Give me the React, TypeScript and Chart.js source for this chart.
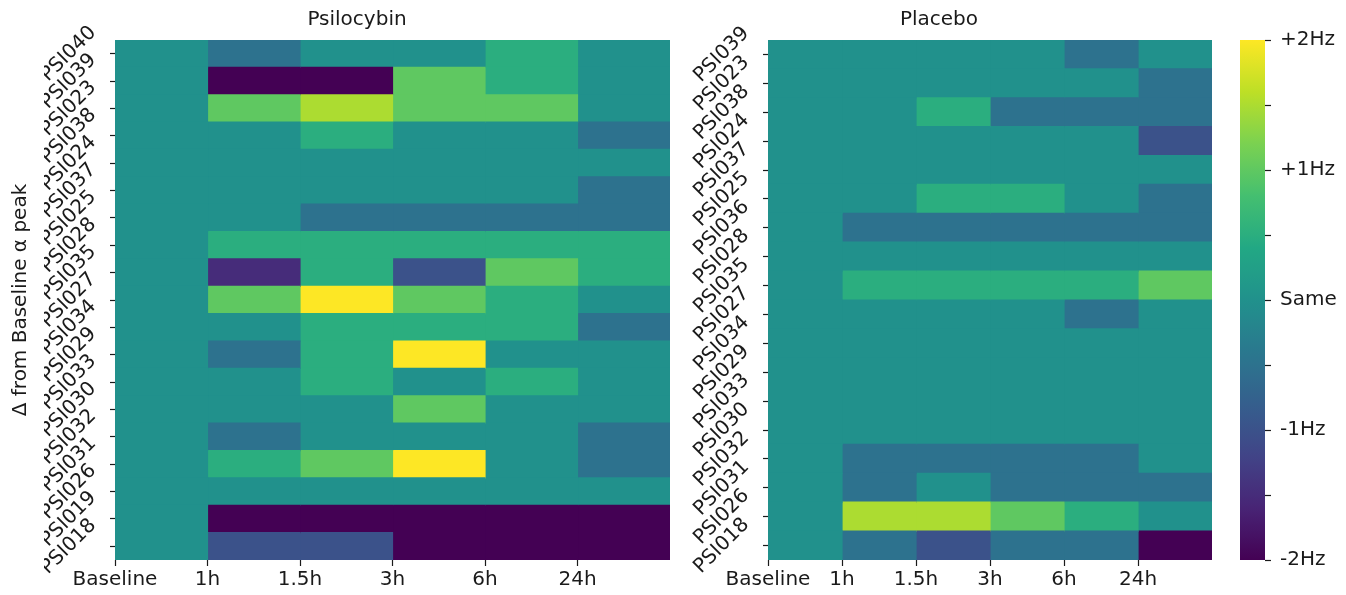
import React, { useEffect, useRef } from 'react';
import { Chart, registerables } from 'chart.js';

Chart.register(...registerables);

// ---------------- data ----------------
const timeLabels = ['Baseline', '1h', '1.5h', '3h', '6h', '24h'];

const psilocybinSubjects = [
  'PSI040', 'PSI039', 'PSI023', 'PSI038', 'PSI024', 'PSI037', 'PSI025', 'PSI028', 'PSI035', 'PSI027',
  'PSI034', 'PSI029', 'PSI033', 'PSI030', 'PSI032', 'PSI031', 'PSI026', 'PSI019', 'PSI018',
];

// Δ from baseline α peak (Hz), one row per subject, columns follow timeLabels
const psilocybinDelta = [
  [0, -0.5, 0, 0, 0.5, 0],
  [0, -2, -2, 1, 0.5, 0],
  [0, 1, 1.5, 1, 1, 0],
  [0, 0, 0.5, 0, 0, -0.5],
  [0, 0, 0, 0, 0, 0],
  [0, 0, 0, 0, 0, -0.5],
  [0, 0, -0.5, -0.5, -0.5, -0.5],
  [0, 0.5, 0.5, 0.5, 0.5, 0.5],
  [0, -1.5, 0.5, -1, 1, 0.5],
  [0, 1, 2, 1, 0.5, 0],
  [0, 0, 0.5, 0.5, 0.5, -0.5],
  [0, -0.5, 0.5, 2, 0, 0],
  [0, 0, 0.5, 0, 0.5, 0],
  [0, 0, 0, 1, 0, 0],
  [0, -0.5, 0, 0, 0, -0.5],
  [0, 0.5, 1, 2, 0, -0.5],
  [0, 0, 0, 0, 0, 0],
  [0, -2, -2, -2, -2, -2],
  [0, -1, -1, -2, -2, -2],
];

const placeboSubjects = [
  'PSI039', 'PSI023', 'PSI038', 'PSI024', 'PSI037', 'PSI025', 'PSI036', 'PSI028', 'PSI035',
  'PSI027', 'PSI034', 'PSI029', 'PSI033', 'PSI030', 'PSI032', 'PSI031', 'PSI026', 'PSI018',
];

const placeboDelta = [
  [0, 0, 0, 0, -0.5, 0],
  [0, 0, 0, 0, 0, -0.5],
  [0, 0, 0.5, -0.5, -0.5, -0.5],
  [0, 0, 0, 0, 0, -1],
  [0, 0, 0, 0, 0, 0],
  [0, 0, 0.5, 0.5, 0, -0.5],
  [0, -0.5, -0.5, -0.5, -0.5, -0.5],
  [0, 0, 0, 0, 0, 0],
  [0, 0.5, 0.5, 0.5, 0.5, 1],
  [0, 0, 0, 0, -0.5, 0],
  [0, 0, 0, 0, 0, 0],
  [0, 0, 0, 0, 0, 0],
  [0, 0, 0, 0, 0, 0],
  [0, 0, 0, 0, 0, 0],
  [0, -0.5, -0.5, -0.5, -0.5, 0],
  [0, -0.5, 0, -0.5, -0.5, -0.5],
  [0, 1.5, 1.5, 1, 0.5, 0],
  [0, -0.5, -1, -0.5, -0.5, -2],
];

const colorbarTicks = [-2, -1.5, -1, -0.5, 0, 0.5, 1, 1.5, 2];
const colorbarTickLabels = ['-2Hz', '', '-1Hz', '', 'Same', '', '+1Hz', '', '+2Hz'];
const valueMin = -2;
const valueMax = 2;

// ---------------- style ----------------
const FONT = "'DejaVu Sans', 'Noto Sans', sans-serif";
const TEXT = '#1a1a1a';
const FS = 20;

const VIRIDIS = [
  '#440154', '#482475', '#414487', '#355f8d', '#2a788e', '#21918c',
  '#22a884', '#44bf70', '#7ad151', '#bddf26', '#fde725',
];

function hexToRgb(h: string) {
  return [parseInt(h.slice(1, 3), 16), parseInt(h.slice(3, 5), 16), parseInt(h.slice(5, 7), 16)];
}

function viridis(t: number) {
  const tt = Math.max(0, Math.min(1, t)) * (VIRIDIS.length - 1);
  const i = Math.min(VIRIDIS.length - 2, Math.floor(tt));
  const f = tt - i;
  const a = hexToRgb(VIRIDIS[i]);
  const b = hexToRgb(VIRIDIS[i + 1]);
  const c = a.map((v, k) => Math.round(v + (b[k] - v) * f));
  return `rgb(${c[0]},${c[1]},${c[2]})`;
}

function deltaColor(v: number) {
  return viridis((v - valueMin) / (valueMax - valueMin));
}

function heatmapConfig(o: {
  title: string;
  subjects: string[];
  values: number[][];
  padLeft: number;
  padRight: number;
  yAxisWidth: number;
  yTitle?: string;
  yTitlePad?: number;
}): any {
  return {
    type: 'bar',
    data: {
      labels: o.subjects,
      datasets: timeLabels.map((t, c) => ({
        label: t,
        data: o.subjects.map(() => [c, c + 1]),
        backgroundColor: o.values.map((row) => deltaColor(row[c])),
        borderWidth: 0,
        barPercentage: 1,
        categoryPercentage: 1,
        grouped: false,
        inflateAmount: 0.6,
      })),
    },
    options: {
      indexAxis: 'y',
      responsive: false,
      animation: false,
      events: [],
      layout: { padding: { left: o.padLeft, right: o.padRight, top: 0, bottom: 0 } },
      plugins: {
        legend: { display: false },
        tooltip: { enabled: false },
        title: {
          display: true,
          text: o.title,
          color: TEXT,
          font: { family: FONT, size: FS, weight: 'normal' },
          padding: { top: 8, bottom: 8 },
        },
      },
      scales: {
        x: {
          type: 'linear',
          min: 0,
          max: timeLabels.length,
          afterBuildTicks: (s: any) => {
            s.ticks = timeLabels.map((_, i) => ({ value: i }));
          },
          afterFit: (s: any) => {
            s.height = 35;
          },
          ticks: {
            autoSkip: false,
            maxRotation: 0,
            minRotation: 0,
            padding: 2,
            color: TEXT,
            font: { family: FONT, size: FS },
            callback: (_v: any, i: number) => timeLabels[i],
          },
          grid: {
            display: true,
            drawOnChartArea: false,
            drawTicks: true,
            tickLength: 6,
            tickColor: TEXT,
            tickWidth: 1.2,
          },
          border: { display: false },
        },
        y: {
          type: 'category',
          afterFit: (s: any) => {
            s.width = o.yAxisWidth;
          },
          ticks: {
            autoSkip: false,
            minRotation: 45,
            maxRotation: 45,
            labelOffset: -24,
            padding: 17,
            color: TEXT,
            font: { family: FONT, size: FS },
          },
          grid: {
            display: true,
            offset: false,
            drawOnChartArea: false,
            drawTicks: true,
            tickLength: 5,
            tickColor: TEXT,
            tickWidth: 1.2,
          },
          border: { display: false },
          title: o.yTitle
            ? {
                display: true,
                text: o.yTitle,
                color: TEXT,
                font: { family: FONT, size: FS },
                padding: { top: o.yTitlePad ?? 0, bottom: 0 },
              }
            : { display: false },
        },
      },
    },
  };
}

function colorbarConfig(): any {
  return {
    type: 'bar',
    data: {
      labels: [''],
      datasets: [
        {
          data: [[valueMin, valueMax]],
          backgroundColor: (ctx: any) => {
            const chart = ctx.chart;
            if (!chart.chartArea) return deltaColor(0);
            const y = chart.scales.y;
            const g = chart.ctx.createLinearGradient(0, y.getPixelForValue(valueMin), 0, y.getPixelForValue(valueMax));
            for (let i = 0; i <= 40; i++) g.addColorStop(i / 40, viridis(i / 40));
            return g;
          },
          borderWidth: 0,
          barPercentage: 1,
          categoryPercentage: 1,
        },
      ],
    },
    options: {
      responsive: false,
      animation: false,
      events: [],
      layout: { padding: { left: 20, right: 0, top: 40, bottom: 35 } },
      plugins: { legend: { display: false }, tooltip: { enabled: false }, title: { display: false } },
      scales: {
        x: { display: false },
        y: {
          position: 'right',
          min: valueMin,
          max: valueMax,
          afterBuildTicks: (s: any) => {
            s.ticks = colorbarTicks.map((v) => ({ value: v }));
          },
          afterFit: (s: any) => {
            s.width = 81;
          },
          ticks: {
            autoSkip: false,
            padding: 9,
            color: TEXT,
            font: { family: FONT, size: FS },
            callback: (_v: any, i: number) => colorbarTickLabels[i],
          },
          grid: {
            display: true,
            drawOnChartArea: false,
            drawTicks: true,
            tickLength: 6,
            tickColor: TEXT,
            tickWidth: 1.2,
          },
          border: { display: false },
        },
      },
    },
  };
}

function ChartCanvas({ left, width, height, makeConfig }: { left: number; width: number; height: number; makeConfig: () => any }) {
  const ref = useRef<HTMLCanvasElement>(null);
  useEffect(() => {
    const chart = new Chart(ref.current as HTMLCanvasElement, makeConfig());
    return () => chart.destroy();
  }, []);
  return (
    <canvas
      ref={ref}
      width={width}
      height={height}
      style={{ position: 'absolute', left, top: 0, width, height }}
    />
  );
}

export default function App() {
  return (
    <div style={{ position: 'fixed', left: 0, top: 0, width: 1346, height: 595, background: '#fff', overflow: 'hidden' }}>
      <ChartCanvas
        left={0}
        width={680}
        height={595}
        makeConfig={() =>
          heatmapConfig({
            title: 'Psilocybin',
            subjects: psilocybinSubjects,
            values: psilocybinDelta,
            padLeft: 44,
            padRight: 10,
            yAxisWidth: 71,
            yTitle: 'Δ from Baseline α peak',
            yTitlePad: -35,
          })
        }
      />
      <ChartCanvas
        left={640}
        width={580}
        height={595}
        makeConfig={() =>
          heatmapConfig({
            title: 'Placebo',
            subjects: placeboSubjects,
            values: placeboDelta,
            padLeft: 26,
            padRight: 8,
            yAxisWidth: 102,
          })
        }
      />
      <ChartCanvas left={1220} width={126} height={595} makeConfig={colorbarConfig} />
    </div>
  );
}
